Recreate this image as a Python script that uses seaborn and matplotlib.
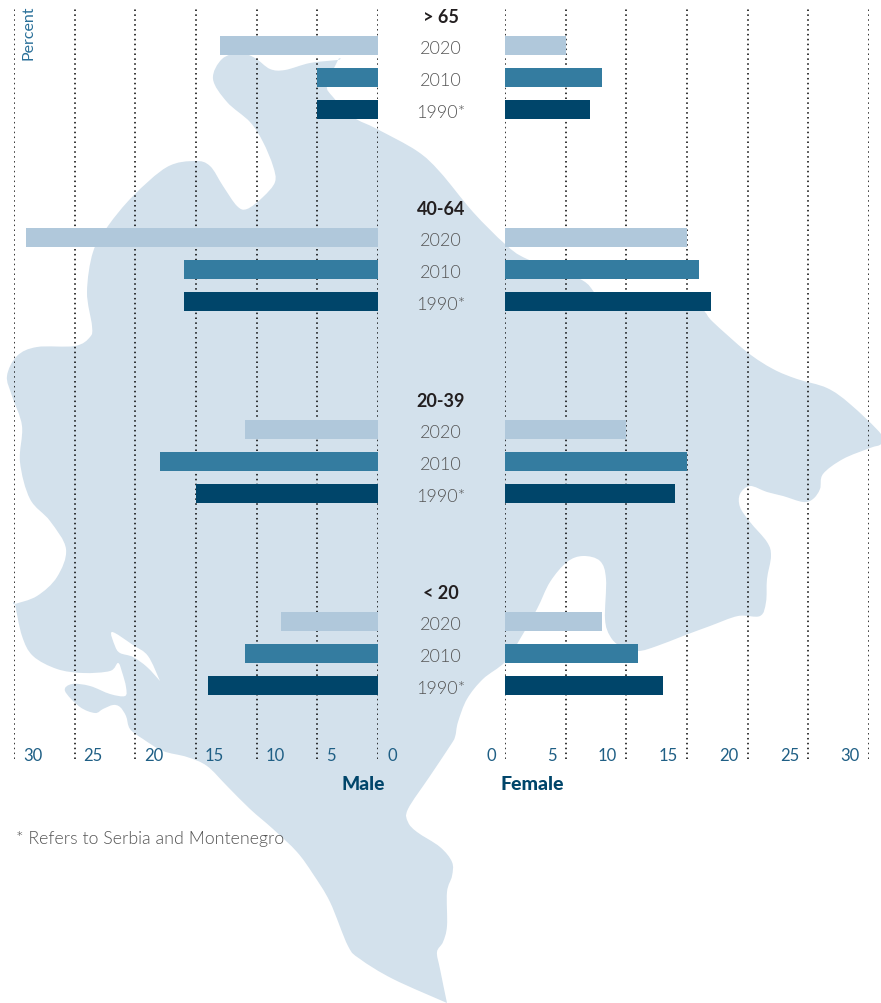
import numpy as np
import pandas as pd
import matplotlib
matplotlib.use("Agg")
import matplotlib.pyplot as plt
import matplotlib.transforms as mtrans
from matplotlib.path import Path
from matplotlib.patches import PathPatch
import seaborn as sns

AGE_GROUPS = ["> 65", "40-64", "20-39", "< 20"]
YEARS = ["2020", "2010", "1990"]
YEAR_LABELS = ["2020", "2010", "1990*"]
MALE_2020 = [13, 29, 11, 8]
MALE_2010 = [5, 16, 18, 11]
MALE_1990 = [5, 16, 15, 14]
FEMALE_2020 = [5, 15, 10, 8]
FEMALE_2010 = [8, 16, 15, 11]
FEMALE_1990 = [7, 17, 14, 13]
TICKS = [0, 5, 10, 15, 20, 25, 30]
COLORS = {"2020": "#b0c8db", "2010": "#347ca0", "1990": "#00456a"}
MAP_COLOR = "#d3e1ec"
TICK_COLOR = "#1f5f85"

# Background silhouette, traced in reference pixels
MAP_OUTLINE = [
    (213, 80), (222, 60), (240, 54), (255, 59), (270, 70), (285, 71), (310, 64), (338, 61), (338, 61),
    (327, 86), (333, 98), (353, 118), (377, 130), (417, 152), (440, 173), (473, 213), (505, 245), (527, 260),
    (580, 280), (595, 294), (605, 301), (695, 305), (705, 313), (713, 323), (747, 353), (773, 370), (797, 380), (827, 389),
    (850, 405), (881, 435), (881, 445), (870, 449), (843, 460), (823, 475), (820, 490), (813, 500), (803, 503),
    (783, 497), (767, 493), (750, 487), (740, 495), (740, 508), (750, 523), (767, 543), (771, 557), (767, 580),
    (766, 603), (760, 617), (738, 617), (710, 627), (683, 637), (657, 647), (638, 652), (620, 647), (610, 637),
    (605, 620), (606, 580), (600, 562), (583, 557), (567, 563), (550, 583), (537, 610), (520, 640), (505, 663),
    (483, 680), (467, 700), (458, 723), (455, 738), (450, 747), (430, 777), (408, 810), (408, 823), (417, 833),
    (440, 848), (452, 863), (452, 877), (447, 893), (447, 927), (443, 943), (437, 953), (440, 970), (447, 1004),
    (447, 1004), (393, 980), (360, 960), (348, 947), (330, 903), (313, 875), (297, 853), (273, 830), (250, 810),
    (227, 787), (207, 767), (187, 758), (163, 752), (143, 740), (130, 730), (126, 717), (120, 708), (113, 706),
    (103, 710), (95, 714), (80, 708), (65, 692), (72, 685), (90, 687), (110, 695), (125, 697), (126, 688),
    (122, 673), (118, 664), (110, 672), (83, 674), (57, 670), (33, 657), (22, 637), (15, 605), (15, 605),
    (37, 597), (57, 578), (66, 550), (50, 522), (30, 500), (20, 463), (22, 427), (12, 397), (7, 377),
    (17, 357), (37, 348), (75, 347), (90, 338), (92, 327), (87, 293), (93, 253), (108, 227), (133, 197),
    (167, 168), (195, 162), (210, 167), (223, 187), (237, 207), (247, 210), (263, 198), (275, 183), (273, 167),
    (263, 143), (250, 123), (227, 103),
]
MAP_HOLE = [
    (115, 647), (120, 654), (133, 658), (147, 668), (160, 682), (160, 682), (148, 657), (133, 646), (112, 633),
]


def smooth(points):
    pts = np.array(points, dtype=float)
    n = len(pts)
    verts = [pts[0]]
    codes = [Path.MOVETO]
    for i in range(n):
        p0, p1, p2, p3 = pts[i - 1], pts[i], pts[(i + 1) % n], pts[(i + 2) % n]
        verts += [p1 + (p2 - p0) / 6, p2 - (p3 - p1) / 6, p2]
        codes += [Path.CURVE4] * 3
    return verts, codes


W, H = 881, 1004
sns.set_theme(style="white")
plt.rcParams["font.family"] = ["Lato", "DejaVu Sans"]
fig = plt.figure(figsize=(W / 100, H / 100), dpi=100, facecolor="white")

page = fig.add_axes([0, 0, 1, 1], zorder=0)
page.set_xlim(0, W)
page.set_ylim(H, 0)
page.axis("off")
v1, c1 = smooth(MAP_OUTLINE)
v2, c2 = smooth(MAP_HOLE)
page.add_patch(PathPatch(Path(v1 + v2, c1 + c2), facecolor=MAP_COLOR, edgecolor="none"))

GRID_TOP, GRID_BOTTOM = 9, 760
BAR_Y0, SLOT = 46.5, 32.0


def long_table(series):
    rows = []
    for j, (year, values) in enumerate(zip(YEARS, series)):
        for i, v in enumerate(values):
            rows.append({"year": year, "pos": i * 6 + j, "value": v})
    return pd.DataFrame(rows)


def make_axes(x0, x1, values, xlim, ha, dx):
    ax = fig.add_axes([x0 / W, 1 - GRID_BOTTOM / H, (x1 - x0) / W, (GRID_BOTTOM - GRID_TOP) / H], zorder=2)
    ax.patch.set_alpha(0)
    sns.barplot(data=long_table(values), x="value", y="pos", hue="year", hue_order=YEARS, palette=COLORS,
                orient="y", native_scale=True, dodge=False, width=0.6, saturation=1, legend=False, ax=ax,
                linewidth=0, edgecolor="none")
    ax.set_xlim(*xlim)
    ax.set_ylim((GRID_BOTTOM - BAR_Y0) / SLOT, (GRID_TOP - BAR_Y0) / SLOT)
    ax.set_xlabel("")
    ax.set_ylabel("")
    ax.set_yticks([])
    ax.set_xticks(TICKS)
    ax.set_xticklabels([str(t) for t in TICKS], fontsize=12, color=TICK_COLOR)
    ax.tick_params(axis="x", length=0, pad=-8.8)
    offset = mtrans.ScaledTranslation(dx / 100, 0, fig.dpi_scale_trans)
    for lab in ax.get_xticklabels():
        lab.set_ha(ha)
        lab.set_transform(lab.get_transform() + offset)
    ax.grid(True, axis="x", color="black", linestyle=(0, (1, 2.2)), linewidth=1.1)
    ax.grid(False, axis="y")
    ax.set_axisbelow(True)
    sns.despine(ax=ax, left=True, bottom=True)
    return ax


ax_m = make_axes(14, 378, [MALE_2020, MALE_2010, MALE_1990], (30, 0), "left", 9)
ax_f = make_axes(505, 869, [FEMALE_2020, FEMALE_2010, FEMALE_1990], (0, 30), "right", -9)

labels = mtrans.blended_transform_factory(page.transData, ax_m.transData)
for i, group in enumerate(AGE_GROUPS):
    ax_m.text(441, i * 6 - 1 + 0.08, group, transform=labels, ha="center", va="center", fontsize=13,
              fontweight="bold", color="#231f20", clip_on=False)
    for j, yl in enumerate(YEAR_LABELS):
        ax_m.text(441, i * 6 + j + 0.08, yl, transform=labels, ha="center", va="center", fontsize=13,
                  fontweight=300, color="#555555", clip_on=False)

page.text(29, 60, "Percent", rotation=90, ha="center", va="bottom", fontsize=11.5, fontweight=400, color="#2a7099")
page.text(363.5, 785, "Male", ha="center", va="center", fontsize=13.8, fontweight="black", color="#00456a")
page.text(532, 785, "Female", ha="center", va="center", fontsize=14, fontweight="black", color="#00456a")
page.text(16, 839, "* Refers to Serbia and Montenegro", ha="left", va="center", fontsize=12.8, fontweight=300,
          color="#555555", zorder=3)

fig.savefig("out.png", dpi=100, facecolor="white")
